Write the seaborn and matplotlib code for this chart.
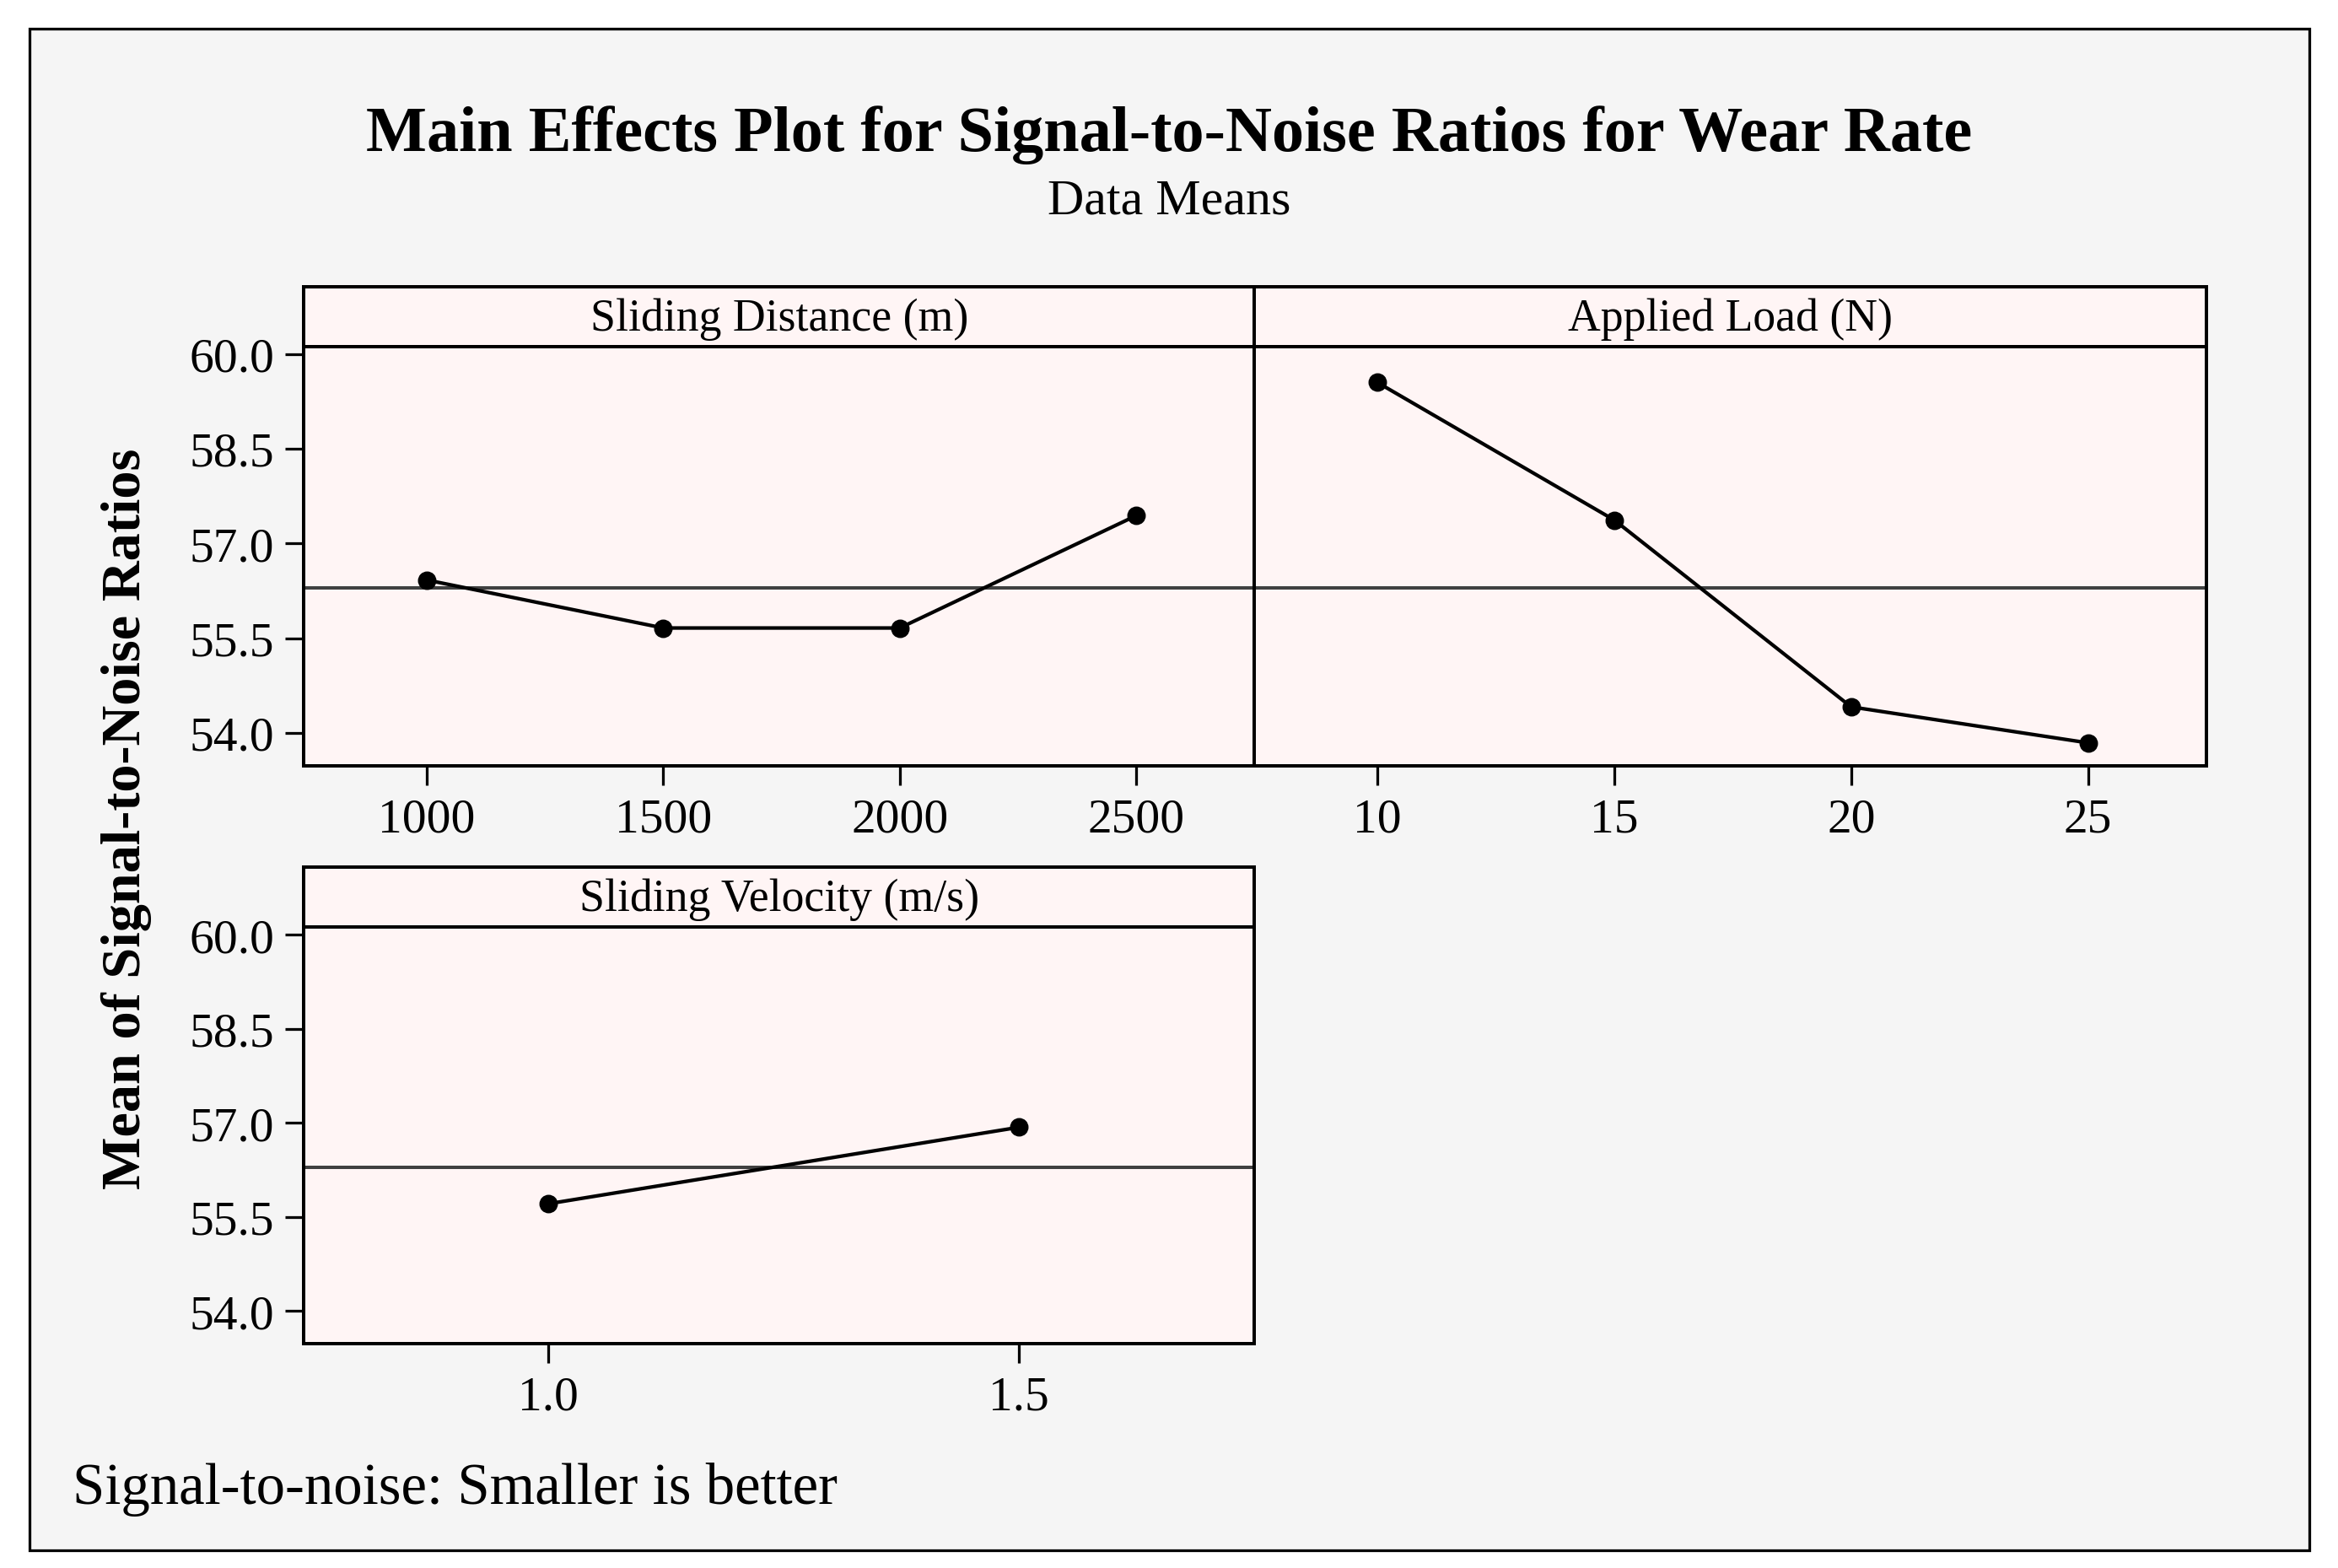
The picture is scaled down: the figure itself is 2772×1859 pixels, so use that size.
import numpy as np
import pandas as pd
import seaborn as sns
import matplotlib
matplotlib.use("Agg")
import matplotlib.pyplot as plt
from matplotlib.patches import Rectangle

# data (mean S/N ratio per level)
sd_levels = ["1000", "1500", "2000", "2500"]
sd_sn = [56.42, 55.66, 55.66, 57.44]
load_levels = ["10", "15", "20", "25"]
load_sn = [59.55, 57.37, 54.41, 53.84]
vel_levels = ["1.0", "1.5"]
vel_sn = [55.71, 56.93]
yticks = [54.0, 55.5, 57.0, 58.5, 60.0]

sns.set_style("white")
plt.rcParams["font.family"] = ["Liberation Serif", "DejaVu Serif"]
plt.rcParams["text.color"] = "black"
plt.rcParams["xtick.color"] = "black"
plt.rcParams["ytick.color"] = "black"

panel_bg = "#fff5f5"
fig = plt.figure(figsize=(15.4, 10.333), dpi=180, facecolor="white")
fig.patches.append(Rectangle((0.0128, 0.0115), 0.975, 0.9695, transform=fig.transFigure,
                             facecolor="#f5f5f5", edgecolor="black", linewidth=1.3, zorder=-10))

grand_mean = np.mean(sd_sn + load_sn)

# panel positions: left, bottom, width, data height
panels = [
    ("Sliding Distance (m)", sd_levels, sd_sn, [0.130, 0.5115, 0.4065, 0.2671], True),
    ("Applied Load (N)", load_levels, load_sn, [0.5365, 0.5115, 0.4072, 0.2671], False),
    ("Sliding Velocity (m/s)", vel_levels, vel_sn, [0.130, 0.1431, 0.4065, 0.2653], True),
]
strip_h = 0.0382

for name, levels, vals, pos, show_y in panels:
    ax = fig.add_axes(pos)
    ax.set_facecolor(panel_bg)
    df = pd.DataFrame({"level": levels, "sn": vals})
    ax.axhline(grand_mean, color="#404040", linewidth=1.6, zorder=1)
    sns.pointplot(data=df, x="level", y="sn", color="black", markers="o",
                  markersize=7.5, linewidth=1.7, ax=ax, zorder=3)
    ax.set_xlim(-0.52, len(levels) - 0.5)
    ax.set_ylim(53.48, 60.12)
    ax.set_yticks(yticks)
    ax.set_xlabel("")
    ax.set_ylabel("")
    for s in ax.spines.values():
        s.set_color("black")
        s.set_linewidth(1.6)
    ax.tick_params(axis="x", bottom=True, direction="out", length=9, width=1.3,
                   labelsize=23, pad=6)
    if show_y:
        ax.set_yticklabels([f"{t:.1f}" for t in yticks])
        ax.tick_params(axis="y", left=True, direction="out", length=9, width=1.3,
                       labelsize=23, pad=5)
    else:
        ax.tick_params(axis="y", left=False, labelleft=False)
    ax.grid(False)

    sax = fig.add_axes([pos[0], pos[1] + pos[3], pos[2], strip_h])
    sax.set_facecolor(panel_bg)
    sax.set_xticks([])
    sax.set_yticks([])
    for s in sax.spines.values():
        s.set_color("black")
        s.set_linewidth(1.6)
    sax.text(0.5, 0.47, name, ha="center", va="center", fontsize=21.5, transform=sax.transAxes)

fig.text(0.5, 0.914, "Main Effects Plot for Signal-to-Noise Ratios for Wear Rate",
         ha="center", va="center", fontsize=30.5, fontweight="bold")
fig.text(0.5, 0.871, "Data Means", ha="center", va="center", fontsize=24)
fig.text(0.054, 0.478, "Mean of Signal-to-Noise Ratios", ha="center", va="center",
         rotation=90, fontsize=26.5, fontweight="bold")
fig.text(0.031, 0.0506, "Signal-to-noise: Smaller is better", ha="left", va="center", fontsize=27.5)

plt.savefig("out.png", dpi=180, facecolor=fig.get_facecolor())
